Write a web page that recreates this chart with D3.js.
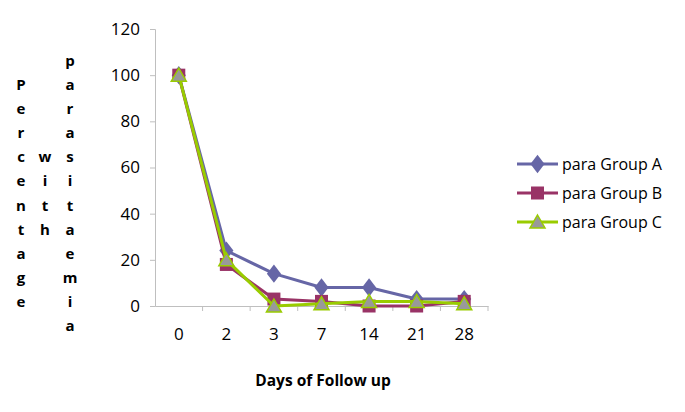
<!DOCTYPE html>
<html>
<head>
<meta charset="utf-8">
<script src="https://cdn.jsdelivr.net/npm/d3@7"></script>
<style>
  body { margin: 0; background: #fff; }
  svg { display: block; }
</style>
</head>
<body>
<svg id="chart"></svg>
<script>
// chart values
const days = ["0", "2", "3", "7", "14", "21", "28"];
const groupA = [100, 24, 14, 8, 8, 3, 3];
const groupB = [100, 18, 3, 2, 0, 0, 2];
const groupC = [100, 20, 0, 1, 2, 2, 1];
const seriesNames = ["para Group A", "para Group B", "para Group C"];
const yTicks = [0, 20, 40, 60, 80, 100, 120];

const width = 685, height = 412;
const font = "'Open Sans', 'DejaVu Sans', sans-serif";

const svg = d3.select("#chart")
    .attr("width", width)
    .attr("height", height);

const x = d3.scaleBand().domain(days).range([155, 488]);
const y = d3.scaleLinear().domain([0, 120]).range([306, 29]);

const series = [
  {name: seriesNames[0], values: groupA, line: "#6666a6", fill: "#6666a6", shape: "diamond"},
  {name: seriesNames[1], values: groupB, line: "#993366", fill: "#993366", shape: "square"},
  {name: seriesNames[2], values: groupC, line: "#99cc00", fill: "#999999", shape: "triangle"}
];

function translate(px, py) {
  return "translate(" + px + "," + py + ")";
}

function marker(g, s, px, py) {
  if (s.shape === "diamond") {
    g.append("path")
        .attr("d", d3.symbol(d3.symbolDiamond, 120)())
        .attr("transform", translate(px, py) + " scale(1.2,0.9)")
        .attr("fill", s.fill);
  } else if (s.shape === "square") {
    g.append("rect")
        .attr("x", px - 6.5).attr("y", py - 6.5)
        .attr("width", 13).attr("height", 13)
        .attr("fill", s.fill);
  } else {
    g.append("path")
        .attr("d", "M0,-7L7.5,6L-7.5,6Z")
        .attr("transform", translate(px, py))
        .attr("fill", s.fill)
        .attr("stroke", s.line)
        .attr("stroke-width", 1.5);
  }
}

// y axis
const yAxis = svg.append("g")
    .attr("transform", translate(155, 0))
    .call(d3.axisLeft(y).tickValues(yTicks).tickSize(5).tickPadding(10));
yAxis.select(".domain").attr("stroke", "#bfbfbf");
yAxis.selectAll(".tick line").attr("stroke", "#bfbfbf");
yAxis.selectAll("text")
    .attr("font-family", font)
    .attr("font-size", 17)
    .attr("fill", "#000");

// x axis with tick marks between categories
const xAxis = svg.append("g")
    .attr("transform", translate(0, 306))
    .call(d3.axisBottom(x).tickSize(0).tickPadding(22));
xAxis.select(".domain").attr("stroke", "#bfbfbf");
xAxis.selectAll("text")
    .attr("font-family", font)
    .attr("font-size", 17)
    .attr("fill", "#000");
xAxis.selectAll(".sep")
    .data(days)
    .enter()
    .append("line")
    .attr("class", "sep")
    .attr("x1", d => x(d) + x.bandwidth())
    .attr("x2", d => x(d) + x.bandwidth())
    .attr("y1", 0).attr("y2", 5)
    .attr("stroke", "#bfbfbf");

// lines and markers
const line = d3.line()
    .x((d, i) => x(days[i]) + x.bandwidth() / 2)
    .y(d => y(d));

series.forEach(function(s) {
  const g = svg.append("g");
  g.append("path")
      .datum(s.values)
      .attr("d", line)
      .attr("fill", "none")
      .attr("stroke", s.line)
      .attr("stroke-width", 3)
      .attr("stroke-linejoin", "round");
  s.values.forEach(function(v, i) {
    marker(g, s, x(days[i]) + x.bandwidth() / 2, y(v));
  });
});

// legend
const legend = svg.append("g");
series.forEach(function(s, i) {
  const ly = 164 + i * 29;
  legend.append("line")
      .attr("x1", 517).attr("x2", 558)
      .attr("y1", ly).attr("y2", ly)
      .attr("stroke", s.line)
      .attr("stroke-width", 3);
  marker(legend, s, 537.5, ly);
  legend.append("text")
      .text(s.name)
      .attr("x", 562)
      .attr("y", ly + 5.5)
      .attr("font-family", font)
      .attr("font-size", 16)
      .attr("fill", "#000");
});

// x axis title
svg.append("text")
    .text("Days of Follow up")
    .attr("x", 323)
    .attr("y", 386)
    .attr("text-anchor", "middle")
    .attr("font-family", font)
    .attr("font-weight", "bold")
    .attr("font-size", 15.5)
    .attr("fill", "#000");

// y axis title, stacked letters in three columns
const yTitle = [
  {word: "Percentage", cx: 21, row: 0},
  {word: "with", cx: 45, row: 3},
  {word: "parasitaemia", cx: 70, row: -1}
];
yTitle.forEach(function(w) {
  w.word.split("").forEach(function(ch, j) {
    svg.append("text")
        .text(ch)
        .attr("x", w.cx)
        .attr("y", 90 + (w.row + j) * 24.1)
        .attr("text-anchor", "middle")
        .attr("font-family", font)
        .attr("font-weight", "bold")
        .attr("font-size", 15)
        .attr("fill", "#000");
  });
});
</script>
</body>
</html>
